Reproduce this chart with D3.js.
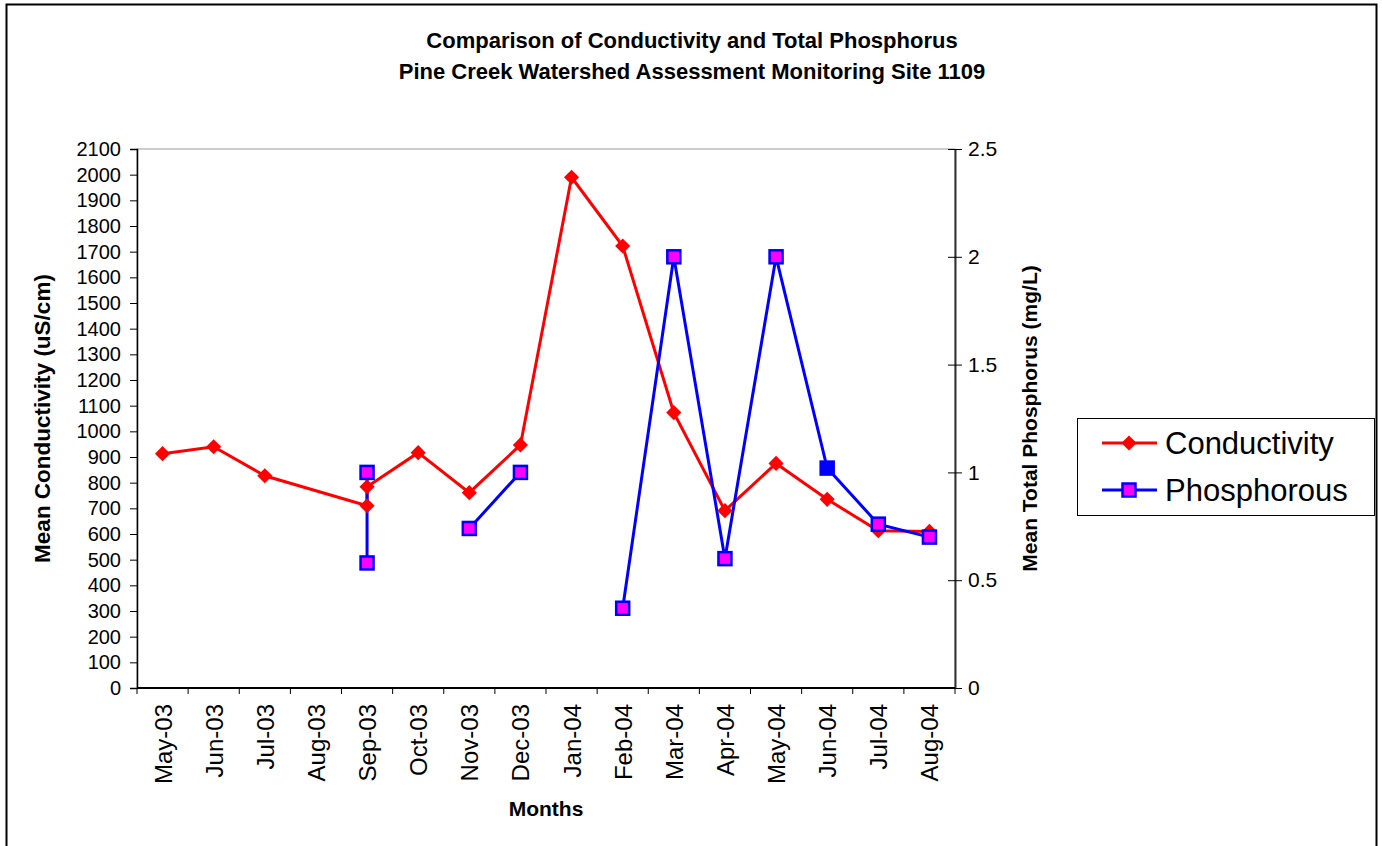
<!DOCTYPE html>
<html>
<head>
<meta charset="utf-8">
<script src="https://cdn.jsdelivr.net/npm/d3@7"></script>
<style>
  html, body { margin: 0; padding: 0; background: #fff; }
  svg { display: block; font-family: "Liberation Sans", Arial, sans-serif; }
</style>
</head>
<body>
<div id="chart"></div>
<script>
// month categories on the x axis
const months = ["May-03", "Jun-03", "Jul-03", "Aug-03", "Sep-03", "Oct-03", "Nov-03", "Dec-03",
  "Jan-04", "Feb-04", "Mar-04", "Apr-04", "May-04", "Jun-04", "Jul-04", "Aug-04"];

// sample rows (Sep-03 was sampled twice)
const sampleMonths = ["May-03", "Jun-03", "Jul-03", "Sep-03", "Sep-03", "Oct-03", "Nov-03", "Dec-03",
  "Jan-04", "Feb-04", "Mar-04", "Apr-04", "May-04", "Jun-04", "Jul-04", "Aug-04"];
const conductivity = [913, 940, 827, 710, 784, 917, 761, 947, 1990, 1722, 1073, 691, 875, 735, 613, 610];
const phosphorus = [null, null, null, 1.0, 0.58, null, 0.74, 1.0, null, 0.37, 2.0, 0.6, 2.0, 1.02, 0.76, 0.70];

const leftTicks = d3.range(0, 2101, 100);
const rightTicks = [0, 0.5, 1, 1.5, 2, 2.5];

const width = 1382, height = 846;
const margin = { top: 149, left: 137, right: 955, bottom: 688 };

const svg = d3.select("#chart").append("svg")
  .attr("width", width)
  .attr("height", height);

// outer chart border
svg.append("rect")
  .attr("x", 6.5).attr("y", 4.5)
  .attr("width", 1370).attr("height", 860)
  .attr("fill", "#fff").attr("stroke", "#000").attr("stroke-width", 2);

const x = d3.scaleBand().domain(months).range([margin.left, margin.right]);
const yL = d3.scaleLinear().domain([0, 2100]).range([margin.bottom, margin.top]);
const yR = d3.scaleLinear().domain([0, 2.5]).range([margin.bottom, margin.top]);
const cx = m => x(m) + x.bandwidth() / 2;

// plot area border
svg.append("rect")
  .attr("x", margin.left).attr("y", margin.top)
  .attr("width", margin.right - margin.left).attr("height", margin.bottom - margin.top)
  .attr("fill", "none").attr("stroke", "#999").attr("stroke-width", 1);

// title
const title = svg.append("text")
  .attr("text-anchor", "middle")
  .attr("font-weight", "bold")
  .attr("font-size", 22);
title.append("tspan").attr("x", 692).attr("y", 48).text("Comparison of Conductivity and Total Phosphorus");
title.append("tspan").attr("x", 692).attr("y", 79).text("Pine Creek Watershed Assessment Monitoring Site 1109");

// left axis
const gL = svg.append("g")
  .attr("transform", `translate(${margin.left},0)`)
  .call(d3.axisLeft(yL).tickValues(leftTicks).tickSize(7).tickPadding(9).tickFormat(d3.format("d")));
gL.selectAll("text").attr("font-size", 20).attr("fill", "#000")
  .attr("font-family", "Liberation Sans, Arial, sans-serif");

// right axis
const gR = svg.append("g")
  .attr("transform", `translate(${margin.right},0)`)
  .call(d3.axisRight(yR).tickValues(rightTicks).tickSize(0).tickPadding(13).tickFormat(d => d));
gR.selectAll("text").attr("font-size", 21).attr("fill", "#000")
  .attr("font-family", "Liberation Sans, Arial, sans-serif");
gR.selectAll(".tick").append("line").attr("x1", -7).attr("x2", 7).attr("stroke", "#000");

// x axis with ticks at month boundaries
const gX = svg.append("g").attr("transform", `translate(0,${margin.bottom})`);
gX.append("line")
  .attr("x1", margin.left).attr("x2", margin.right)
  .attr("stroke", "#000").attr("stroke-width", 2);
gX.selectAll("line.tk")
  .data(months.concat(["end"]))
  .join("line")
  .attr("class", "tk")
  .attr("x1", (d, i) => margin.left + i * x.bandwidth())
  .attr("x2", (d, i) => margin.left + i * x.bandwidth())
  .attr("y1", 0).attr("y2", 6)
  .attr("stroke", "#000");
gX.selectAll("text")
  .data(months)
  .join("text")
  .attr("transform", d => `translate(${cx(d) + 9},16) rotate(-90)`)
  .attr("text-anchor", "end")
  .attr("font-size", 24)
  .text(d => d);

svg.selectAll(".domain").attr("stroke", "#000");
gL.select(".domain").attr("stroke-width", 1.5);
gR.select(".domain").attr("stroke", "#333").attr("stroke-width", 2);

// axis titles
svg.append("text")
  .attr("x", 546).attr("y", 816)
  .attr("text-anchor", "middle").attr("font-weight", "bold").attr("font-size", 21)
  .text("Months");
svg.append("text")
  .attr("transform", `translate(50,${(margin.top + margin.bottom) / 2}) rotate(-90)`)
  .attr("text-anchor", "middle").attr("font-weight", "bold").attr("font-size", 22.5)
  .text("Mean Conductivity (uS/cm)");
svg.append("text")
  .attr("transform", `translate(1037,${(margin.top + margin.bottom) / 2}) rotate(-90)`)
  .attr("text-anchor", "middle").attr("font-weight", "bold").attr("font-size", 21)
  .text("Mean Total Phosphorus (mg/L)");

// series
const condData = sampleMonths.map((m, i) => ({ m, v: conductivity[i] }));
const phosData = sampleMonths.map((m, i) => ({ m, v: phosphorus[i], i }));

svg.append("path")
  .datum(condData)
  .attr("fill", "none").attr("stroke", "#ff0000").attr("stroke-width", 3)
  .attr("d", d3.line().x(d => cx(d.m)).y(d => yL(d.v)));

svg.append("path")
  .datum(phosData)
  .attr("fill", "none").attr("stroke", "#0000ff").attr("stroke-width", 3)
  .attr("d", d3.line().defined(d => d.v != null).x(d => cx(d.m)).y(d => yR(d.v)));

svg.selectAll("path.cond")
  .data(condData)
  .join("path")
  .attr("class", "cond")
  .attr("transform", d => `translate(${cx(d.m)},${yL(d.v)}) rotate(45)`)
  .attr("d", d3.symbol().type(d3.symbolSquare).size(115))
  .attr("fill", "#ff0000");

svg.selectAll("rect.phos")
  .data(phosData.filter(d => d.v != null))
  .join("rect")
  .attr("class", "phos")
  .attr("x", d => cx(d.m) - 6.5).attr("y", d => yR(d.v) - 6.5)
  .attr("width", 13).attr("height", 13)
  .attr("fill", d => d.m === "Jun-04" ? "#0000ff" : "#ff00ff")
  .attr("stroke", "#0000ff").attr("stroke-width", 2.5);

// legend
const lg = svg.append("g");
lg.append("rect")
  .attr("x", 1077.5).attr("y", 418.5).attr("width", 297).attr("height", 97)
  .attr("fill", "#fff").attr("stroke", "#000").attr("stroke-width", 1);
const items = [
  { name: "Conductivity", color: "#ff0000", y: 443 },
  { name: "Phosphorous", color: "#0000ff", y: 490 }
];
items.forEach((it, i) => {
  lg.append("line")
    .attr("x1", 1102).attr("x2", 1157).attr("y1", it.y).attr("y2", it.y)
    .attr("stroke", it.color).attr("stroke-width", 3);
  if (i === 0) {
    lg.append("path")
      .attr("transform", `translate(1129,${it.y}) rotate(45)`)
      .attr("d", d3.symbol().type(d3.symbolSquare).size(115))
      .attr("fill", "#ff0000");
  } else {
    lg.append("rect")
      .attr("x", 1129 - 6.5).attr("y", it.y - 6.5).attr("width", 13).attr("height", 13)
      .attr("fill", "#ff00ff").attr("stroke", "#0000ff").attr("stroke-width", 2.5);
  }
  lg.append("text")
    .attr("x", 1165).attr("y", it.y + 11)
    .attr("font-size", 31)
    .text(it.name);
});
</script>
</body>
</html>
